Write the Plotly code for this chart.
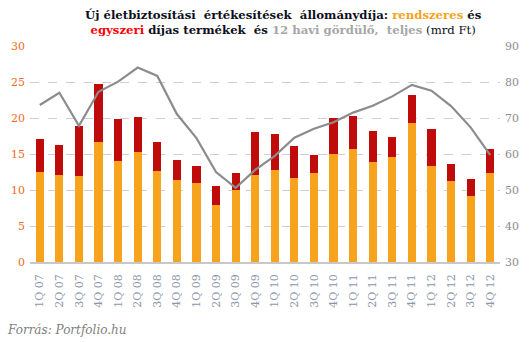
import plotly.graph_objects as go

categories = ["1Q 07","2Q 07","3Q 07","4Q 07","1Q 08","2Q 08","3Q 08","4Q 08",
              "1Q 09","2Q 09","3Q 09","4Q 09","1Q 10","2Q 10","3Q 10","4Q 10",
              "1Q 11","2Q 11","3Q 11","4Q 11","1Q 12","2Q 12","3Q 12","4Q 12"]
rendszeres = [12.5, 12.1, 11.9, 16.7, 14.0, 15.3, 12.6, 11.4,
              11.0, 7.9, 10.0, 12.1, 12.8, 11.7, 12.4, 15.0,
              15.7, 13.9, 14.6, 19.3, 13.3, 11.25, 9.2, 12.4]
osszes = [17.1, 16.25, 18.9, 24.7, 19.9, 20.15, 16.7, 14.2,
          13.3, 10.6, 12.4, 18.1, 17.8, 16.1, 14.9, 20.0,
          20.3, 18.2, 17.4, 23.2, 18.5, 13.6, 11.5, 15.7]
egyszeri = [round(t - r, 2) for t, r in zip(osszes, rendszeres)]
gordulo = [73.6, 77.0, 67.8, 77.3, 80.1, 84.0, 81.7, 71.1,
           64.4, 55.0, 50.6, 55.6, 59.5, 64.5, 67.0, 68.8,
           71.5, 73.4, 76.0, 79.2, 77.6, 73.3, 67.4, 59.7]

serif = "DejaVu Serif"
fig = go.Figure()
fig.add_trace(go.Bar(x=categories, y=rendszeres, marker_color="#F8A31D",
                     marker_line_width=0, width=0.42, name="rendszeres"))
fig.add_trace(go.Bar(x=categories, y=egyszeri, marker_color="#C00B0B",
                     marker_line_width=0, width=0.42, name="egyszeri"))
fig.add_trace(go.Scatter(x=categories, y=gordulo, mode="lines", yaxis="y2",
                         line=dict(color="#8C8C8C", width=2.2), name="teljes"))

title = ("<b>Új életbiztosítási  értékesítések  állománydíja: "
         "<span style='color:#F7A21B'>rendszeres</span> és</b><br>"
         "<b><span style='color:#FF0000'>egyszeri</span> díjas termékek  és "
         "<span style='color:#A6A6A6'>12 havi gördülő,  teljes</span></b> (mrd Ft)")

fig.update_layout(
    width=531, height=342,
    margin=dict(l=30, r=31, t=46, b=80),
    paper_bgcolor="white", plot_bgcolor="white",
    barmode="stack", bargap=0.58, showlegend=False,
)
fig.add_annotation(text=title, xref="paper", yref="paper", x=(283 - 30) / 470, y=1,
                   yshift=40, xanchor="center", yanchor="top", showarrow=False,
                   align="center", font=dict(family=serif, size=11.7, color="#0D1020"))
fig.add_annotation(text="<i>Forrás: Portfolio.hu</i>", xref="paper", yref="paper",
                   x=-25 / 470, y=0, yshift=-59, xanchor="left", yanchor="top",
                   showarrow=False, font=dict(family=serif, size=12, color="#7F7F7F"))

fig.update_xaxes(range=[-0.5, 23.5], tickangle=-90, showgrid=False,
                 showline=True, linecolor="#C8C8C8", linewidth=1.5, ticks="",
                 ticklabelstandoff=6,
                 tickfont=dict(family=serif, size=11, color="#8C96A8"))
fig.update_yaxes(range=[0, 30], dtick=5, showgrid=True, gridcolor="#CFCFCF",
                 griddash="dash", gridwidth=1, zeroline=False, ticks="",
                 ticklabelstandoff=4,
                 tickfont=dict(family=serif, size=11, color="#F26A1B"))
fig.update_layout(yaxis2=dict(overlaying="y", side="right", range=[30, 90], dtick=10,
                              showgrid=False, zeroline=False, ticks="",
                              ticklabelstandoff=4,
                              tickfont=dict(family=serif, size=11, color="#8C8C8C")))

fig.write_html("out.html")
